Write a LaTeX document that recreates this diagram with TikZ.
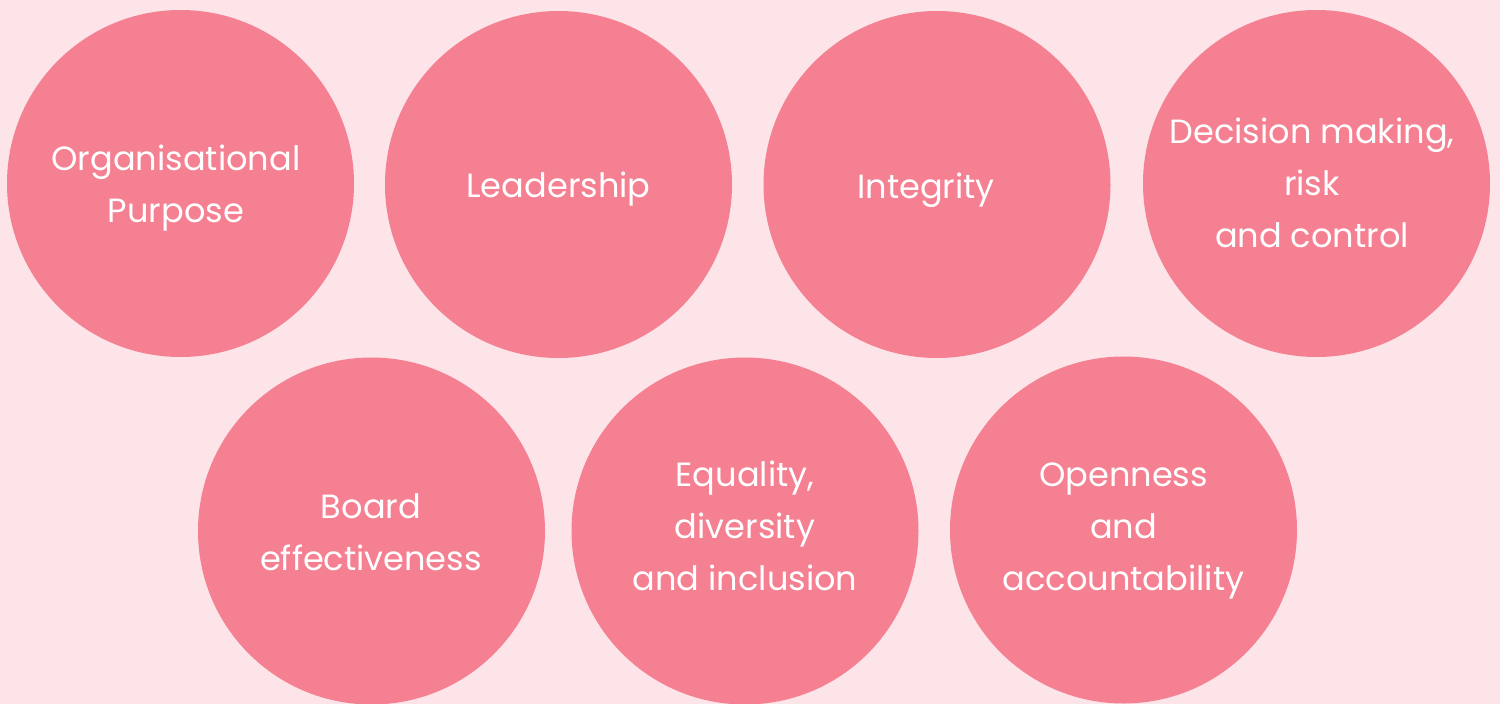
\documentclass[tikz,border=0pt]{standalone}
\usepackage{fontspec}
\setmainfont{Poppins}
\definecolor{bgpink}{RGB}{252,228,232}
\definecolor{petal}{RGB}{244,128,146}
\begin{document}
\begin{tikzpicture}[x=1pt,y=-1pt,
  bubble/.style={circle,fill=petal,minimum size=347pt,inner sep=0pt},
  label/.style={text=white,align=center,anchor=base,inner sep=0pt,
    font=\fontsize{33.6}{52}\selectfont}]
\fill[bgpink] (0,0) rectangle (1500,704);
\useasboundingbox (0,0) rectangle (1500,704);
% top row
\node[bubble] (purpose) at (180.5,183.5) {};
\node[bubble] (leader) at (558.5,184.5) {};
\node[bubble] (integ) at (937,184.5) {};
\node[bubble] (decide) at (1316.5,183.5) {};
% bottom row
\node[bubble] (board) at (371.5,531) {};
\node[bubble] (equal) at (745,531) {};
\node[bubble] (open) at (1123.5,530) {};
% labels, placed by the baseline of their last line
\node[label] (tpurpose) at (176,222) {Organisational\\Purpose};
\node[label] (tleader) at (558.5,197) {Leadership};
\node[label] (tinteg) at (926,198) {Integrity};
\node[label] (tdecide) at (1312,247) {Decision making,\\risk\\and control};
\node[label] (tboard) at (371,570) {Board\\effectiveness};
\node[label] (tequal) at (745,590) {Equality,\\diversity\\and inclusion};
\node[label] (topen) at (1123.5,590) {Openness\\and\\accountability};
\end{tikzpicture}
\end{document}
